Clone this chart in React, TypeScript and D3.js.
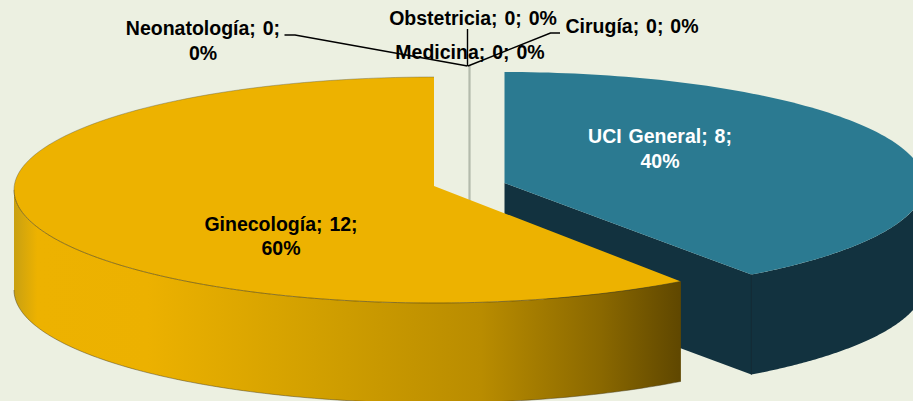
import React from "react";
import * as d3 from "d3";

const categories = ["UCI General", "Ginecología", "Neonatología", "Obstetricia", "Cirugía", "Medicina"];
const values = [8, 12, 0, 0, 0, 0];
const percents = ["40%", "60%", "0%", "0%", "0%", "0%"];

const W = 913, H = 401;
const BG = "#ecf0e1";
const DEPTH = 100;
const RX = 420;

type Geo = { apexX: number; apexY: number; cy: number; ry: number };
const blueGeo: Geo = { apexX: 504.5, apexY: 183, cy: 184, ry: 112 };
const goldGeo: Geo = { apexX: 434, apexY: 186, cy: 190, ry: 113 };

const pt = (g: Geo, a: number, dy = 0): [number, number] => [
  g.apexX + RX * Math.sin(a),
  g.cy - g.ry * Math.cos(a) + dy,
];
const line = d3.line<[number, number]>().x((d) => d[0]).y((d) => d[1]);
const arcPts = (g: Geo, a0: number, a1: number, dy = 0): [number, number][] => {
  const n = 120;
  return d3.range(n + 1).map((i) => pt(g, a0 + ((a1 - a0) * i) / n, dy));
};
const closed = (p: [number, number][]) => line(p) + "Z";

const arcs = d3.pie<number>().sort(null).value((d) => d)(values);
const blue = arcs[0];
const gold = arcs[1];

const blueTop = closed([[blueGeo.apexX, blueGeo.apexY], ...arcPts(blueGeo, blue.startAngle, blue.endAngle)]);
const blueOuter = closed([
  ...arcPts(blueGeo, Math.PI / 2, blue.endAngle),
  ...arcPts(blueGeo, blue.endAngle, Math.PI / 2, DEPTH),
]);
const blueTip = pt(blueGeo, blue.endAngle);
const blueCut = closed([
  [blueGeo.apexX, blueGeo.apexY],
  blueTip,
  [blueTip[0], blueTip[1] + DEPTH],
  [blueGeo.apexX, blueGeo.apexY + DEPTH],
]);

const goldTop = closed([[goldGeo.apexX, goldGeo.apexY], ...arcPts(goldGeo, gold.startAngle, gold.endAngle)]);
const goldFront = arcPts(goldGeo, gold.startAngle, (3 * Math.PI) / 2);
const goldOuter = closed([...goldFront, ...goldFront.slice().reverse().map(([x, y]) => [x, y + DEPTH] as [number, number])]);
const goldLower = line(goldFront.map(([x, y]) => [x, y + DEPTH] as [number, number])) as string;
const goldUpper = line(goldFront) as string;

const goldStops: [string, string][] = [
  ["0", "#c8a012"],
  ["0.035", "#edb200"],
  ["0.2", "#ecb100"],
  ["0.45", "#d2a000"],
  ["0.7", "#b98c00"],
  ["0.88", "#8a6800"],
  ["1", "#5f4700"],
];

const textStyle: React.CSSProperties = {
  fontFamily: "'Liberation Sans', Arial, sans-serif",
  fontWeight: 700,
  fontSize: 19.5,
  textAnchor: "middle",
  whiteSpace: "pre",
  wordSpacing: 1.5,
};

const lab = (i: number) => `${categories[i]}; ${values[i]}; ${percents[i]}`;

export default function App() {
  return (
    <svg
      width={W}
      height={H}
      viewBox={`0 0 ${W} ${H}`}
      style={{ position: "absolute", left: 0, top: 0, background: BG, display: "block" }}
    >
      <defs>
        <linearGradient id="goldSide" gradientUnits="userSpaceOnUse" x1={14} x2={681} y1={0} y2={0}>
          {goldStops.map(([o, c]) => (
            <stop key={o} offset={o} stopColor={c} />
          ))}
        </linearGradient>
      </defs>

      <path d={blueOuter} fill="#12323f" />
      <path d={blueCut} fill="#12323f" />
      <path d={blueTop} fill="#2b7a91" />
      <line x1={blueTip[0]} x2={blueTip[0]} y1={blueTip[1]} y2={blueTip[1] + DEPTH} stroke="#0c2530" strokeWidth={1} />

      <line x1={469.5} x2={469.5} y1={66} y2={201} stroke="#b4bbac" strokeWidth={2.2} />

      <path d={goldOuter} fill="url(#goldSide)" />
      <path d={goldLower} fill="none" stroke="#4a3f20" strokeOpacity={0.6} strokeWidth={0.8} />
      <path d={goldTop} fill="#edb200" />
      <path d={goldUpper} fill="none" stroke="#3f3516" strokeOpacity={0.7} strokeWidth={0.8} />
      <path d={line(arcPts(goldGeo, (3 * Math.PI) / 2, 2 * Math.PI)) as string} fill="none" stroke="#5a5a40" strokeOpacity={0.5} strokeWidth={0.8} />

      <g fill="none" stroke="#000" strokeWidth={1.4}>
        <polyline points="284.5,35 295,35 467.5,66" />
        <polyline points="467.5,29 467.5,66" />
        <polyline points="560,33 550.5,33 468,66" />
      </g>

      <g style={textStyle} fill="#000">
        <text x={203} y={35}>{`${categories[2]}; ${values[2]};`}</text>
        <text x={203} y={60}>{percents[2]}</text>
        <text x={473} y={25}>{lab(3)}</text>
        <text x={470} y={59}>{lab(5)}</text>
        <text x={632} y={33}>{lab(4)}</text>
        <text x={281} y={231}>{`${categories[1]}; ${values[1]};`}</text>
        <text x={281} y={255}>{percents[1]}</text>
      </g>
      <g style={textStyle} fill="#fff">
        <text x={660} y={143}>{`${categories[0]}; ${values[0]};`}</text>
        <text x={660} y={168}>{percents[0]}</text>
      </g>
    </svg>
  );
}
